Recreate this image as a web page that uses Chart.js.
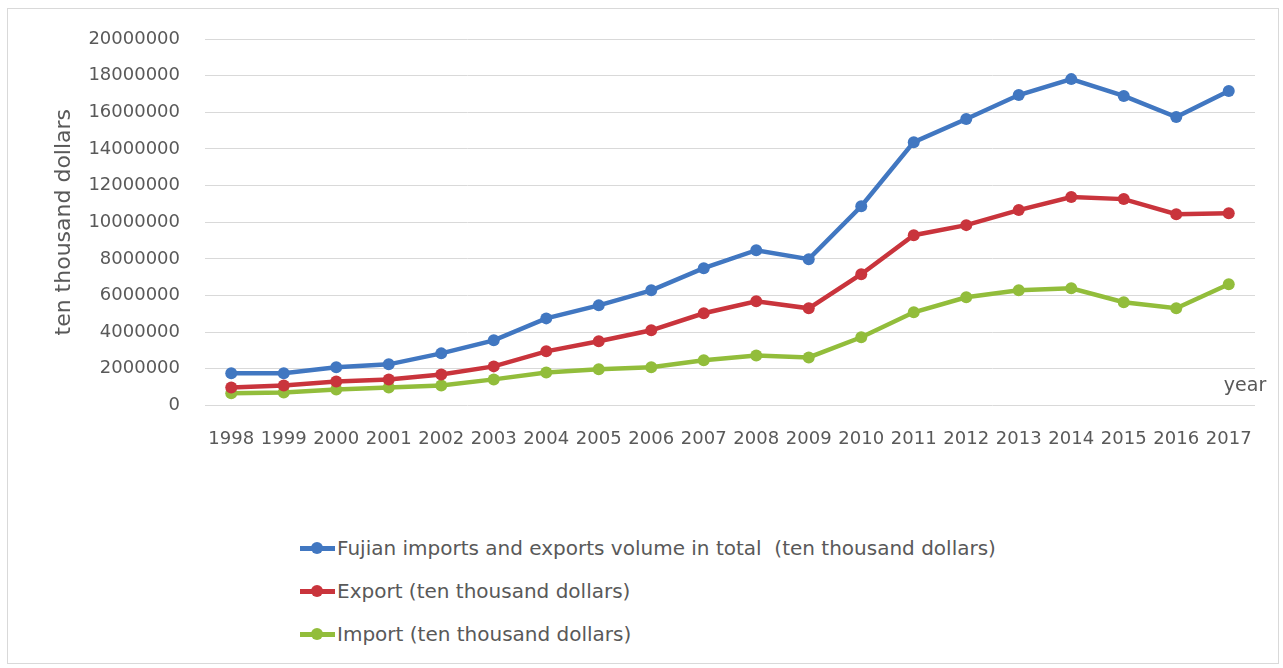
<!DOCTYPE html>
<html>
<head>
<meta charset="utf-8">
<script src="https://cdn.jsdelivr.net/npm/chart.js"></script>
<style>
    body { margin: 0; background: #fff; font-family: "DejaVu Sans", sans-serif; }
    #wrap { position: relative; width: 1283px; height: 668px; }
    #frame { position: absolute; left: 7px; top: 8px; width: 1272px; height: 656px; border: 1px solid #d9d9d9; box-sizing: border-box; }
    #chartBox { position: absolute; left: 0; top: 0; width: 1283px; height: 485px; }
    #legend { position: absolute; left: 300px; top: 534px; color: #595959; font-size: 20px; }
    .item { height: 43px; display: flex; align-items: flex-start; }
    .swatch { position: relative; width: 35px; height: 28px; margin-right: 2px; }
    .swatch .ln { position: absolute; left: 0; top: 12px; width: 35px; height: 5px; }
    .swatch .pt { position: absolute; left: 11px; top: 8px; width: 12px; height: 12px; border-radius: 50%; }
    .txt { line-height: 28px; white-space: pre; }
</style>
</head>
<body>
<div id="wrap">
    <div id="frame"></div>
    <div id="chartBox"><canvas id="c"></canvas></div>
    <div id="legend"></div>
</div>
<script>
// years on the x axis
const years = ['1998','1999','2000','2001','2002','2003','2004','2005','2006','2007',
               '2008','2009','2010','2011','2012','2013','2014','2015','2016','2017'];

// values (ten thousand dollars)
const totalVolume = [1750000, 1750000, 2080000, 2240000, 2840000, 3550000, 4750000, 5460000, 6280000, 7490000,
                     8470000, 7980000, 10870000, 14370000, 15630000, 16940000, 17810000, 16890000, 15740000, 17160000];
const exportVolume = [980000, 1090000, 1310000, 1420000, 1690000, 2130000, 2950000, 3500000, 4100000, 5030000,
                      5680000, 5300000, 7160000, 9290000, 9840000, 10660000, 11370000, 11260000, 10440000, 10490000];
const importVolume = [660000, 710000, 870000, 980000, 1090000, 1420000, 1800000, 1970000, 2080000, 2460000,
                      2730000, 2620000, 3720000, 5080000, 5900000, 6280000, 6390000, 5630000, 5300000, 6610000];

const seriesNames = ['Fujian imports and exports volume in total  (ten thousand dollars)',
                     'Export (ten thousand dollars)',
                     'Import (ten thousand dollars)'];
const seriesColors = ['#4177c1', '#c9343c', '#92bd3b'];

const yTicks = [0, 2000000, 4000000, 6000000, 8000000, 10000000, 12000000, 14000000, 16000000, 18000000, 20000000];

const grey = '#595959';
const tickFont = { family: 'DejaVu Sans', size: 18 };

function makeSet(i, data) {
    return {
        label: seriesNames[i],
        data: data,
        borderColor: seriesColors[i],
        backgroundColor: seriesColors[i],
        borderWidth: 4.5,
        pointRadius: 6,
        pointBorderWidth: 0,
        tension: 0,
        fill: false
    };
}

// "year" label next to the right end of the x axis
const yearLabel = {
    id: 'yearLabel',
    afterDraw(chart) {
        const ctx = chart.ctx;
        const area = chart.chartArea;
        ctx.save();
        ctx.fillStyle = grey;
        ctx.font = '19px "DejaVu Sans"';
        ctx.textAlign = 'center';
        ctx.textBaseline = 'middle';
        ctx.fillText('year', area.right - 10, area.bottom - 19);
        ctx.restore();
    }
};

const chart = new Chart(document.getElementById('c'), {
    type: 'line',
    data: {
        labels: years,
        datasets: [makeSet(0, totalVolume), makeSet(1, exportVolume), makeSet(2, importVolume)]
    },
    options: {
        responsive: true,
        maintainAspectRatio: false,
        animation: false,
        layout: { padding: { left: 51, right: 28, top: 39, bottom: 20 } },
        plugins: {
            legend: { display: false },
            tooltip: { enabled: false }
        },
        scales: {
            x: {
                offset: true,
                grid: { display: false },
                border: { display: false },
                ticks: { color: grey, font: tickFont, padding: 15, maxRotation: 0, autoSkip: false }
            },
            y: {
                min: 0,
                max: 20000000,
                afterBuildTicks(scale) { scale.ticks = yTicks.map(v => ({ value: v })); },
                afterFit(scale) { scale.width = 154; },
                grid: { color: '#d9d9d9', lineWidth: 1, drawTicks: false },
                border: { display: false },
                ticks: { color: grey, font: tickFont, padding: 25, callback: v => String(v) },
                title: { display: true, text: 'ten thousand dollars', color: grey,
                         font: { family: 'DejaVu Sans', size: 22 }, padding: 0 }
            }
        }
    },
    plugins: [yearLabel]
});

// legend stacked under the chart, built from the datasets
const legend = document.getElementById('legend');
chart.data.datasets.forEach(ds => {
    const row = document.createElement('div');
    row.className = 'item';
    row.innerHTML = '<div class="swatch"><div class="ln" style="background:' + ds.borderColor + '"></div>' +
                    '<div class="pt" style="background:' + ds.borderColor + '"></div></div>' +
                    '<div class="txt"></div>';
    row.querySelector('.txt').textContent = ds.label;
    legend.appendChild(row);
});
</script>
</body>
</html>
